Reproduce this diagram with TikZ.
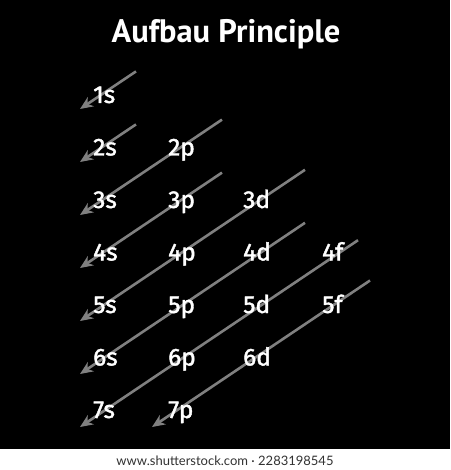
\documentclass[tikz,border=0pt]{standalone}
\usepackage{fontspec}
\setmainfont{PT Sans}
\newfontfamily\orbfont[FakeBold=1.6]{Fira Sans}
\newfontfamily\wmfont{Lato}
\usetikzlibrary{arrows.meta}
\definecolor{arrowgray}{RGB}{128,128,128}
\definecolor{wmgray}{RGB}{50,50,50}
\tikzset{
  orb/.style={anchor=base west, inner sep=0pt, text=white, font=\orbfont\fontsize{24.5}{26}\selectfont},
  fillarrow/.style={draw=arrowgray, line width=2.6pt, -{Stealth[length=13pt,width=11pt,inset=4pt]}},
  titletext/.style={anchor=base, inner sep=0pt, text=white, font=\bfseries\fontsize{32.5}{34}\selectfont},
  wmtext/.style={anchor=base, inner sep=0pt, text=wmgray, font=\wmfont\fontsize{13}{14}\selectfont}
}
\begin{document}
\begin{tikzpicture}[x=1pt,y=-1pt]
\fill[black] (0,0) rectangle (450,449);
\fill[white] (0,449) rectangle (450,470);
\useasboundingbox (0,0) rectangle (450,470);
\node[titletext] (title) at (226,43) {Aufbau Principle};
% arrows
\coordinate (a1s) at (136,71.4);  \coordinate (a1e) at (80,109);
\coordinate (a2s) at (136,124.4); \coordinate (a2e) at (80,162);
\coordinate (a3s) at (222,119.6); \coordinate (a3e) at (80,215);
\coordinate (a4s) at (222,172.6); \coordinate (a4e) at (80,268);
\coordinate (a5s) at (305,169.8); \coordinate (a5e) at (80,321);
\coordinate (a6s) at (305,222.8); \coordinate (a6e) at (80,374);
\coordinate (a7s) at (358,240.2); \coordinate (a7e) at (80,427);
\coordinate (a8s) at (370,280.5); \coordinate (a8e) at (152,427);
\foreach \i in {1,...,8} {\draw[fillarrow] (a\i s) -- (a\i e);}
% labels
\node[orb] (o1s) at (93,103) {1s};
\node[orb] (o2s) at (93,155.5) {2s};
\node[orb] (o2p) at (168,155.5) {2p};
\node[orb] (o3s) at (93,208) {3s};
\node[orb] (o3p) at (168,208) {3p};
\node[orb] (o3d) at (243,208) {3d};
\node[orb] (o4s) at (93,260.5) {4s};
\node[orb] (o4p) at (168,260.5) {4p};
\node[orb] (o4d) at (243,260.5) {4d};
\node[orb] (o4f) at (322,260.5) {4f};
\node[orb] (o5s) at (93,313) {5s};
\node[orb] (o5p) at (168,313) {5p};
\node[orb] (o5d) at (243,313) {5d};
\node[orb] (o5f) at (322,313) {5f};
\node[orb] (o6s) at (93,365.5) {6s};
\node[orb] (o6p) at (168,365.5) {6p};
\node[orb] (o6d) at (243,365.5) {6d};
\node[orb] (o7s) at (93,418) {7s};
\node[orb] (o7p) at (168,418) {7p};
\node[wmtext] (wm) at (225,465) {www.shutterstock.com · 2283198545};
\end{tikzpicture}
\end{document}
